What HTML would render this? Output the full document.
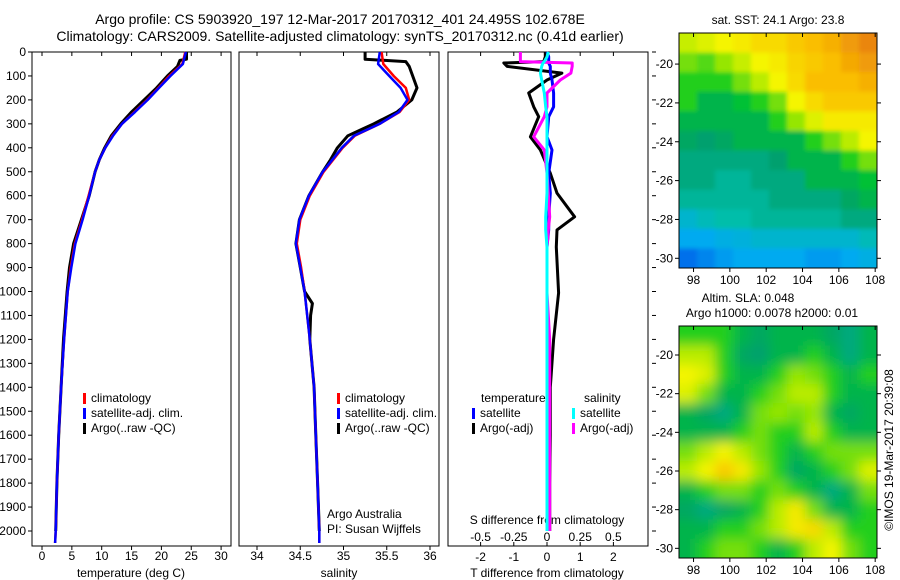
<!DOCTYPE html>
<html><head><meta charset="utf-8"><style>
html,body{margin:0;padding:0;background:#fff;}
svg{display:block;font-family:"Liberation Sans",sans-serif;}
text{font-size:12px;fill:#000;}
</style></head><body>
<svg id="c" width="900" height="580" viewBox="0 0 900 580"></svg>
<script>
// ---------- data ----------
const depthClim = [0,50,100,150,200,250,300,350,400,450,500,600,700,800,900,1000,1200,1400,1600,1800,2000,2050];
const tempClim  = [24.0,23.5,21.3,19.5,17.6,15.5,13.4,11.8,10.6,9.6,8.9,7.8,6.7,5.5,4.8,4.3,3.7,3.2,2.8,2.5,2.3,2.2];
const tempSat   = [24.1,23.6,21.5,19.6,17.7,15.6,13.4,11.9,10.6,9.6,8.9,7.9,6.8,5.6,4.9,4.3,3.7,3.2,2.8,2.5,2.3,2.2];
const depthArgoT = [0,30,35,60,100,150,200,250,300,350,400,450,500,600,700,800,900,1000,1200,1400,1600,1800,2000];
const tempArgo   = [24.2,24.2,23.1,22.7,21.0,19.2,17.1,15.0,13.2,11.6,10.5,9.6,8.9,7.9,6.6,5.3,4.6,4.2,3.6,3.2,2.8,2.5,2.3];
const salClim = [35.44,35.46,35.58,35.72,35.76,35.65,35.42,35.13,34.99,34.88,34.77,34.61,34.50,34.46,34.51,34.55,34.61,34.66,34.68,34.70,34.72,34.72];
const salSat  = [35.42,35.40,35.53,35.66,35.74,35.64,35.42,35.12,34.98,34.87,34.76,34.60,34.49,34.45,34.50,34.55,34.61,34.66,34.68,34.70,34.72,34.72];
const depthArgoS = [0,30,40,60,100,150,200,250,300,350,400,450,500,600,700,800,900,1000,1050,1100,1200,1400,1600,1800,2000];
const salArgo    = [35.25,35.25,35.72,35.76,35.80,35.85,35.79,35.62,35.35,35.05,34.93,34.85,34.76,34.60,34.49,34.45,34.50,34.55,34.64,34.62,34.61,34.66,34.68,34.70,34.72];
const depthDiff = [0,20,40,46,60,88,117,171,229,270,354,409,506,589,688,743,814,1006,1200,1400,1600,1800,2000];
const tDiffArgo = [-0.05,-0.05,-0.1,-1.3,-1.2,0.45,0.0,-0.55,-0.4,-0.25,-0.5,-0.2,0.1,0.3,0.83,0.3,0.28,0.35,0.2,0.1,0.1,0.08,0.08];
const tDiffSat  = [0.0,0.05,0.05,0.05,0.1,0.1,0.15,0.2,0.2,0.05,0.0,0.15,0.05,0.1,0.05,0.05,0.0,0.0,0.0,0.0,0.0,0.0,0.0];
const sDiffArgo = [-0.2,-0.2,-0.2,0.19,0.19,0.18,0.1,0.0,0.0,-0.02,-0.1,-0.02,0.0,0.01,0.02,0.01,0.0,0.0,0.02,0.02,0.02,0.02,0.02];
const sDiffSat  = [0.01,0.0,-0.02,-0.03,-0.04,-0.05,-0.04,-0.02,-0.01,0.0,0.0,0.0,0.0,0.0,-0.01,-0.01,0.0,0.0,0.0,0.0,0.0,0.0,0.0];
const depthTicks = [0,100,200,300,400,500,600,700,800,900,1000,1100,1200,1300,1400,1500,1600,1700,1800,1900,2000];
const tempTicks = [0,5,10,15,20,25,30];
const salTicks = [34,34.5,35,35.5,36];
const tDiffTicks = [-2,-1,0,1,2];
const sDiffTickLabels = ["-0.5","-0.25","0","0.25","0.5"];
const mapLonTicks = [98,100,102,104,106,108];
const mapLatTicks = [-20,-22,-24,-26,-28,-30];
const sstGrid = [
[0.66,0.68,0.70,0.72,0.75,0.75,0.78,0.80,0.82,0.85,0.88],
[0.60,0.58,0.62,0.66,0.70,0.72,0.76,0.78,0.80,0.83,0.85],
[0.55,0.55,0.55,0.60,0.65,0.70,0.75,0.80,0.80,0.80,0.82],
[0.55,0.50,0.50,0.52,0.55,0.60,0.70,0.75,0.78,0.78,0.78],
[0.50,0.50,0.50,0.50,0.50,0.55,0.62,0.68,0.72,0.72,0.72],
[0.48,0.47,0.48,0.50,0.50,0.50,0.50,0.55,0.60,0.65,0.70],
[0.45,0.45,0.45,0.45,0.45,0.47,0.50,0.50,0.50,0.55,0.60],
[0.45,0.45,0.42,0.42,0.45,0.45,0.45,0.50,0.50,0.50,0.52],
[0.42,0.42,0.42,0.42,0.42,0.45,0.45,0.45,0.45,0.48,0.50],
[0.35,0.38,0.40,0.40,0.42,0.42,0.42,0.42,0.42,0.45,0.45],
[0.30,0.30,0.32,0.33,0.35,0.35,0.35,0.35,0.35,0.35,0.38],
[0.22,0.25,0.28,0.30,0.30,0.30,0.30,0.28,0.28,0.30,0.32]];
const slaGrid = [
[0.55,0.55,0.55,0.50,0.48,0.50,0.50,0.50,0.48,0.45,0.50],
[0.65,0.65,0.55,0.48,0.47,0.50,0.50,0.55,0.50,0.45,0.50],
[0.70,0.68,0.55,0.50,0.50,0.55,0.62,0.60,0.55,0.50,0.55],
[0.68,0.60,0.50,0.50,0.55,0.60,0.65,0.65,0.55,0.50,0.50],
[0.50,0.48,0.45,0.50,0.60,0.62,0.60,0.62,0.50,0.48,0.50],
[0.50,0.50,0.50,0.55,0.60,0.55,0.55,0.65,0.55,0.50,0.50],
[0.60,0.65,0.70,0.65,0.60,0.55,0.50,0.55,0.60,0.60,0.60],
[0.65,0.70,0.78,0.72,0.62,0.55,0.48,0.50,0.55,0.60,0.68],
[0.50,0.55,0.60,0.60,0.55,0.60,0.55,0.50,0.45,0.50,0.60],
[0.48,0.45,0.48,0.50,0.55,0.65,0.72,0.60,0.50,0.50,0.55],
[0.50,0.50,0.55,0.55,0.60,0.65,0.72,0.75,0.65,0.55,0.55],
[0.50,0.55,0.60,0.60,0.55,0.50,0.55,0.65,0.70,0.60,0.55]];

// ---------- helpers ----------
const svg = document.getElementById('c');
const NS = 'http://www.w3.org/2000/svg';
function el(tag, attrs, parent){ const e=document.createElementNS(NS,tag); for(const k in attrs) e.setAttribute(k,attrs[k]); (parent||svg).appendChild(e); return e; }
function txt(x,y,s,anchor,size,parent){ const t=el('text',{x:x,y:y,'text-anchor':anchor||'start'},parent); if(size) t.style.fontSize=size+'px'; t.textContent=s; return t; }
const TOP=52, BOT=546;
const yD = d => TOP + d*0.2395;
function line(xs, ds, fx, color, w, name){
  const pts = xs.map((v,i)=>fx(v).toFixed(1)+','+yD(ds[i]).toFixed(1)).join(' ');
  const p = el('polyline',{points:pts,fill:'none',stroke:color,'stroke-width':w||2.5,'stroke-linejoin':'round'});
  
  
  return p;
}
function frame(x0,x1,name){
  const r = el('rect',{x:x0,y:TOP,width:x1-x0,height:BOT-TOP,fill:'none',stroke:'#000','stroke-width':1});
  
  
}
function legendEntry(x,y,color,label,name){
  const g = el('g',{});
  
  
  el('rect',{x:x,y:y-9,width:3,height:11,fill:color},g);
  txt(x+8,y,label,'start',12,g);
}

// titles
txt(340,24,'Argo profile: CS 5903920_197 12-Mar-2017 20170312_401 24.495S 102.678E','middle',14);
txt(340,41,'Climatology: CARS2009. Satellite-adjusted climatology: synTS_20170312.nc (0.41d earlier)','middle',14);

// ---------- panel 1: temperature ----------
const xT = v => 42 + v*5.97;
frame(32,231,'temperature-panel-frame');
depthTicks.forEach(d=>{ el('line',{x1:28,x2:32,y1:yD(d),y2:yD(d),stroke:'#000'}); el('line',{x1:652,x2:656,y1:yD(d),y2:yD(d),stroke:'#000'});
  const t=txt(26,yD(d)+4,String(d),'end',12);  });
tempTicks.forEach(v=>{ const x=xT(v); el('line',{x1:x,x2:x,y1:BOT,y2:BOT+4,stroke:'#000'}); el('line',{x1:x,x2:x,y1:TOP,y2:TOP+4,stroke:'#000'}); txt(x,560,String(v),'middle',12); });
txt(131,577,'temperature (deg C)','middle',12);
line(tempArgo, depthArgoT, xT, '#000', 3, 'temp-argo-line');
line(tempClim, depthClim, xT, '#f00', 2.5, 'temp-climatology-line');
line(tempSat, depthClim, xT, '#00f', 2.5, 'temp-satellite-line');
legendEntry(83,402,'#f00','climatology','legend-climatology');
legendEntry(83,417,'#00f','satellite-adj. clim.','legend-satellite-clim');
legendEntry(83,432,'#000','Argo(..raw -QC)','legend-argo');

// ---------- panel 2: salinity ----------
const xS = v => 257 + (v-34)*86.5;
frame(239,439,'salinity-panel-frame');
salTicks.forEach(v=>{ const x=xS(v); el('line',{x1:x,x2:x,y1:BOT,y2:BOT+4,stroke:'#000'}); el('line',{x1:x,x2:x,y1:TOP,y2:TOP+4,stroke:'#000'}); txt(x,560,String(v),'middle',12); });
txt(339,577,'salinity','middle',12);
line(salArgo, depthArgoS, xS, '#000', 3, 'sal-argo-line');
line(salClim, depthClim, xS, '#f00', 2.5, 'sal-climatology-line');
line(salSat, depthClim, xS, '#00f', 2.5, 'sal-satellite-line');
legendEntry(337,402,'#f00','climatology','legend-climatology-2');
legendEntry(337,417,'#00f','satellite-adj. clim.','legend-satellite-clim-2');
legendEntry(337,432,'#000','Argo(..raw -QC)','legend-argo-2');
txt(327,518,'Argo Australia','start',12);
txt(327,533,'PI: Susan Wijffels','start',12);

// ---------- panel 3: differences ----------
const xDf = v => 547 + v*33.2, xSd = v => 547 + v*4*33.2;
frame(448,648,'difference-panel-frame');
tDiffTicks.forEach((v,i)=>{ const x=xDf(v); el('line',{x1:x,x2:x,y1:BOT,y2:BOT-4,stroke:'#000'}); el('line',{x1:x,x2:x,y1:TOP,y2:TOP+4,stroke:'#000'});
  txt(x,561,String(v),'middle',12); txt(x,541,sDiffTickLabels[i],'middle',12); });
txt(547,524,'S difference from climatology','middle',12);
txt(547,577,'T difference from climatology','middle',12);
line(tDiffArgo, depthDiff, xDf, '#000', 3, 'tdiff-argo-line');
line(tDiffSat, depthDiff, xDf, '#00f', 3, 'tdiff-satellite-line');
line(sDiffArgo, depthDiff, xSd, '#f0f', 3, 'sdiff-argo-line');
line(sDiffSat, depthDiff, xSd, '#0ff', 3, 'sdiff-satellite-line');
txt(481,402,'temperature','start',12);
txt(584,402,'salinity','start',12);
legendEntry(472,417,'#00f','satellite','legend-t-satellite');
legendEntry(472,432,'#000','Argo(-adj)','legend-t-argo');
legendEntry(572,417,'#0ff','satellite','legend-s-satellite');
legendEntry(572,432,'#f0f','Argo(-adj)','legend-s-argo');

// ---------- maps ----------
const stops=[[0,[0,0,140]],[0.15,[0,60,230]],[0.3,[0,170,240]],[0.4,[0,190,170]],[0.47,[0,160,110]],[0.53,[0,200,40]],[0.62,[150,230,0]],[0.7,[245,245,0]],[0.8,[250,190,0]],[0.9,[230,120,20]],[1,[200,60,20]]];
function cmap(v){ for(let i=1;i<stops.length;i++){ if(v<=stops[i][0]){ const a=stops[i-1],b=stops[i],f=(v-a[0])/(b[0]-a[0]); return 'rgb('+a[1].map((c,k)=>Math.round(c+(b[1][k]-c)*f)).join(',')+')'; } } return 'rgb(200,60,20)'; }
const defs = el('defs',{});
const flt = el('filter',{id:'blur',x:'-10%',y:'-10%',width:'120%',height:'120%'},defs);
el('feGaussianBlur',{stdDeviation:'6',edgeMode:'duplicate'},flt);
const flt2 = el('filter',{id:'blur2',x:'-10%',y:'-10%',width:'120%',height:'120%'},defs);
el('feGaussianBlur',{stdDeviation:'2',edgeMode:'duplicate'},flt2);
function drawMap(grid, y0, y1, latTop, latBot, name, blurId){
  const x0=679, x1=877, lonL=97.2, lonR=108.1;
  const xL = lon => x0 + (lon-lonL)/(lonR-lonL)*(x1-x0);
  const yL = lat => y0 + (latTop-lat)/(latTop-latBot)*(y1-y0);
  const g = el('g',{});
  
  
  const cp = el('clipPath',{id:name+'-clip'},g); el('rect',{x:x0,y:y0,width:x1-x0,height:y1-y0},cp);
  const outer = el('g',{'clip-path':'url(#'+name+'-clip)'},g);
  const cg = el('g',{filter:'url(#'+blurId+')'},outer);
  const nr=grid.length, nc=grid[0].length;
  const cw=(x1-x0)/nc, ch=(y1-y0)/nr;
  grid.forEach((row,r)=>row.forEach((v,c)=>{
    let cx=x0+c*cw, cy=y0+r*ch, w=cw+0.6, h=ch+0.6;
    if(c===0){cx-=15;w+=15;} if(c===nc-1){w+=15;}
    if(r===0){cy-=15;h+=15;} if(r===nr-1){h+=15;}
    const cell = el('rect',{x:cx,y:cy,width:w,height:h,fill:cmap(v)},cg);
    
    
  }));
  el('rect',{x:x0,y:y0,width:x1-x0,height:y1-y0,fill:'none',stroke:'#000'},g);
  mapLonTicks.forEach(v=>{ const x=xL(v); el('line',{x1:x,x2:x,y1:y1,y2:y1+4,stroke:'#000'},g); el('line',{x1:x,x2:x,y1:y0,y2:y0+4,stroke:'#000'},g); txt(x,y1+16,String(v),'middle',12,g); });
  mapLatTicks.forEach(v=>{ const y=yL(v); el('line',{x1:x0-4,x2:x0,y1:y,y2:y,stroke:'#000'},g); el('line',{x1:x1,x2:x1+4,y1:y,y2:y,stroke:'#000'},g); txt(x0-6,y+4,String(v),'end',12,g); });
}
drawMap(sstGrid, 33, 268, -18.4, -30.5, 'sst-map', 'blur2');
drawMap(slaGrid, 326, 558, -18.5, -30.5, 'sla-map', 'blur');
txt(778,24,'sat. SST: 24.1 Argo: 23.8','middle',12);
txt(748,302,'Altim. SLA: 0.048','middle',12);
txt(772,317,'Argo h1000: 0.0078 h2000: 0.01','middle',12);
const cr = txt(0,0,'©IMOS 19-Mar-2017 20:39:08','middle',12);
cr.setAttribute('transform','translate(893,450) rotate(-90)');

</script>
</body></html>
